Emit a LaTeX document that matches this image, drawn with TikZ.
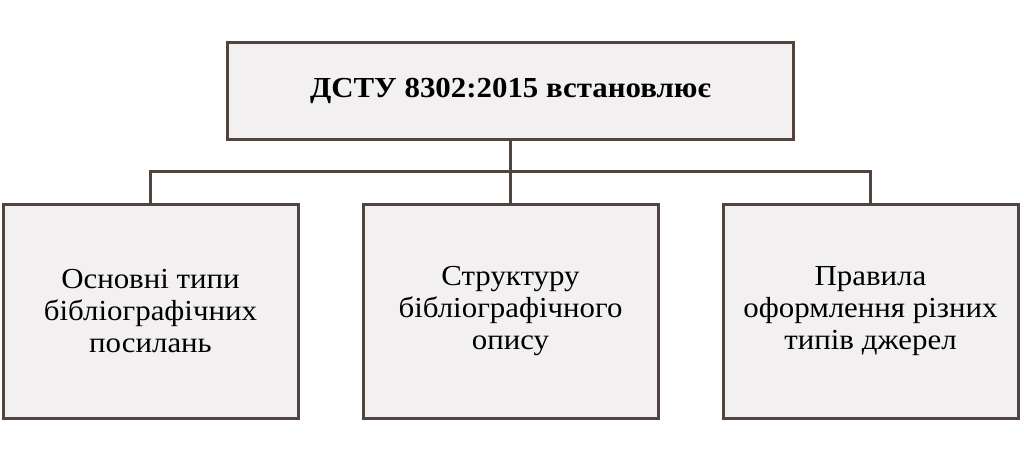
\documentclass[tikz,border=0pt]{standalone}
\usepackage{fontspec}
\setmainfont{Liberation Serif}[FakeStretch=1.065]
\usetikzlibrary{positioning,calc}

\definecolor{boxline}{RGB}{80,68,60}
\definecolor{boxfill}{RGB}{242,240,241}

\begin{document}
\begin{tikzpicture}[node distance=62pt,line width=3pt]

		\tikzstyle{every node}=[draw=boxline,fill=boxfill,align=center,inner sep=0pt]
		\tikzstyle{headbox}=[minimum width=566pt,minimum height=97pt,font=\fontsize{29}{33}\selectfont\bfseries]
		\tikzstyle{itembox}=[minimum width=295pt,minimum height=214pt,font=\fontsize{29}{32}\selectfont]

		\useasboundingbox (0,0) rectangle (1024pt,462pt);

		\node[headbox] (q_top) at (510.5pt,371pt) {ДСТУ 8302:2015 встановлює};
		\node[itembox] (q_mid) [below=62pt of q_top] {Структуру\\бібліографічного\\опису};
		\node[itembox] (q_left) [left=62pt of q_mid] {Основні типи\\бібліографічних\\посилань};
		\node[itembox] (q_right) [right=62pt of q_mid] {Правила\\оформлення різних\\типів джерел};

		\coordinate (q_bus) at ($(q_top.south)!0.5!(q_mid.north)$);

		\draw[boxline] (q_top.south) -- (q_mid.north);
		\draw[boxline] (q_left.north) |- (q_bus) -| (q_right.north);
\end{tikzpicture}
\end{document}
